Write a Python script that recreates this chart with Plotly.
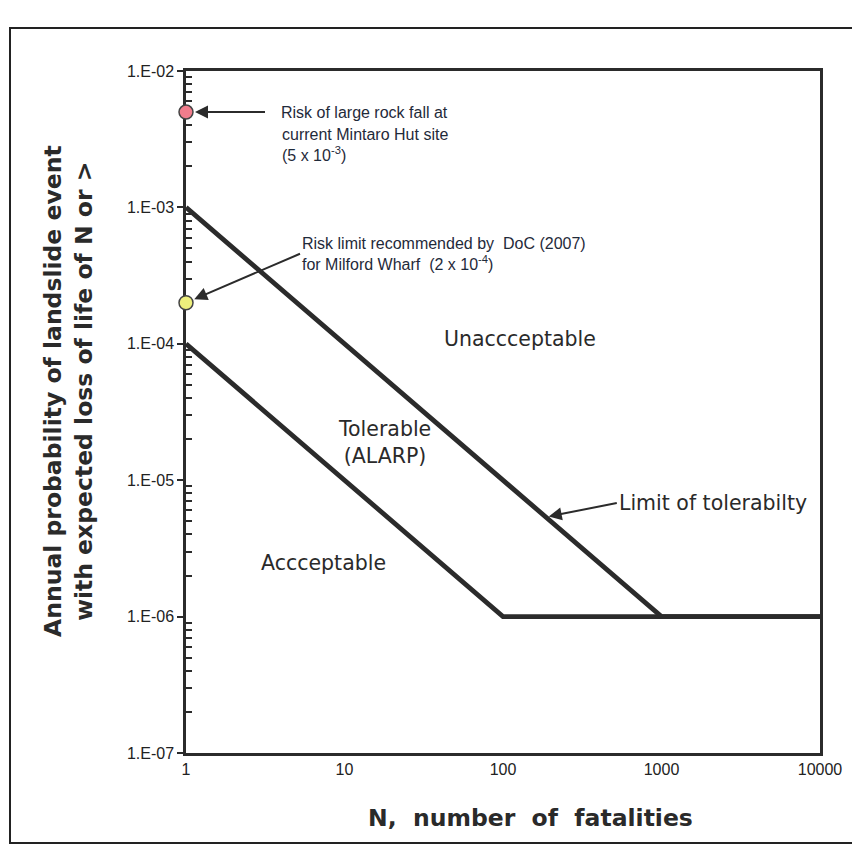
import plotly.graph_objects as go
import math

# ---- data ----
limit_N = [1, 1000, 10000]
limit_P = [1e-3, 1e-6, 1e-6]
accept_N = [1, 100, 10000]
accept_P = [1e-4, 1e-6, 1e-6]
point_N = [1, 1]
point_P = [5e-3, 2e-4]
point_colors = ["#f27d8c", "#eef07c"]
y_tickvals = [1e-7, 1e-6, 1e-5, 1e-4, 1e-3, 1e-2]
y_ticktext = ["1.E-07", "1.E-06", "1.E-05", "1.E-04", "1.E-03", "1.E-02"]
x_tickvals = [1, 10, 100, 1000, 10000]
x_ticktext = ["1", "10", "100", "1000", "10000"]
minor_y = [k * 10.0 ** e for e in range(-7, -2) for k in range(2, 10)]

# page geometry (browser body has an 8px margin)
OFF = 8
W, H = 860 - OFF, 855 - OFF
L, R, T, B = 186, 820, 71, 753


def px(xp):
    return (xp - L) / (R - L)


def py(yp):
    return (B - yp) / (B - T)


INK = "#2b2b2b"
fig = go.Figure()
fig.add_trace(go.Scatter(x=accept_N, y=accept_P, mode="lines",
                         line=dict(color=INK, width=4.8), showlegend=False, hoverinfo="skip"))
fig.add_trace(go.Scatter(x=limit_N, y=limit_P, mode="lines",
                         line=dict(color=INK, width=4.8), showlegend=False, hoverinfo="skip"))
fig.add_trace(go.Scatter(x=point_N, y=point_P, mode="markers", cliponaxis=False,
                         marker=dict(size=14, color=point_colors,
                                     line=dict(color="#444", width=1.5)),
                         showlegend=False))
# empty trace to hold the minor-tick overlay axis
fig.add_trace(go.Scatter(x=[None], y=[None], yaxis="y2", showlegend=False, hoverinfo="skip"))

ann = []
small = dict(family="Liberation Sans, Arial", size=16, color="#1f2a3a")
region = dict(family="DejaVu Sans", size=20.5, color="#2a2a2a")
arrow = dict(showarrow=True, arrowhead=2, arrowsize=1.3, arrowwidth=2, arrowcolor=INK,
             xref="x", yref="y", axref="pixel", ayref="pixel")

# rock fall point: arrow + first text line
ann.append(dict(arrow, x=math.log10(point_N[0]), y=math.log10(point_P[0]), ax=265 - L, ay=0,
                standoff=9, xanchor="left", yanchor="middle", borderpad=15, align="left",
                font=small, text="Risk of large rock fall at"))
ann.append(dict(xref="paper", yref="paper", x=px(280), y=py(124), xanchor="left", yanchor="top",
                align="left", showarrow=False, font=small,
                text="current Mintaro Hut site<br>(5 x 10<sup>-3</sup>)"))
# Milford wharf point
ann.append(dict(arrow, x=math.log10(point_N[1]), y=math.log10(point_P[1]), ax=300 - L, ay=-49,
                standoff=9, xanchor="left", yanchor="middle", borderpad=1, align="left",
                font=small,
                text="Risk limit recommended by  DoC (2007)<br>for Milford Wharf  (2 x 10<sup>-4</sup>)"))
# limit of tolerability label with arrow to the line
tipN = 10 ** 2.27
tipP = limit_P[0] / tipN
ann.append(dict(arrow, x=math.log10(tipN), y=math.log10(tipP), ax=71, ay=-14, standoff=3,
                xanchor="left", yanchor="middle", borderpad=1, font=region,
                text="Limit of tolerabilty"))

ann.append(dict(xref="paper", yref="paper", x=px(520), y=py(339), xanchor="center", yanchor="middle",
                showarrow=False, font=region, text="Unaccceptable"))
ann.append(dict(xref="paper", yref="paper", x=px(384), y=py(442), xanchor="center", yanchor="middle",
                showarrow=False, font=region, text="Tolerable<br>(ALARP)"))
ann.append(dict(xref="paper", yref="paper", x=px(323), y=py(563), xanchor="center", yanchor="middle",
                showarrow=False, font=region, text="Accceptable"))

# axis titles
title_font = dict(family="DejaVu Sans", size=23.5, color="#2a2a2a", weight="bold")
ann.append(dict(xref="paper", yref="paper", x=px(68), y=py(391), xanchor="center", yanchor="middle",
                showarrow=False, textangle=-90, font=title_font,
                text="Annual probability of landslide event<br>with expected loss of life of N or >"))
ann.append(dict(xref="paper", yref="paper", x=px(530), y=py(818), xanchor="center", yanchor="middle",
                showarrow=False, font=title_font, text="N,  number  of  fatalities"))

fig.update_layout(
    width=W, height=H,
    margin=dict(l=L - OFF, r=W - (R - OFF), t=T - OFF, b=H - (B - OFF), pad=0),
    paper_bgcolor="white", plot_bgcolor="white",
    annotations=ann,
    shapes=[dict(type="rect", xref="paper", yref="paper",
                 x0=px(10), x1=px(866), y0=py(843), y1=py(28),
                 line=dict(color="#222", width=2))],
    yaxis2=dict(type="log", range=[-7, -2], overlaying="y", side="left", anchor="x",
                tickvals=minor_y, ticks="inside", ticklen=6, tickwidth=1.5, tickcolor=INK,
                showticklabels=False, showgrid=False, zeroline=False, showline=False,
                layer="below traces"),
)
tickfont = dict(family="Liberation Sans, Arial", size=16, color="#222")
fig.update_xaxes(type="log", range=[0, 4], showgrid=False, zeroline=False,
                 showline=True, linecolor=INK, linewidth=2.5, mirror=True, layer="below traces",
                 tickvals=x_tickvals, ticktext=x_ticktext, ticks="", tickfont=tickfont)
fig.layout.yaxis.update(type="log", range=[-7, -2], showgrid=False, zeroline=False,
                        showline=True, linecolor=INK, linewidth=2.5, mirror=True,
                        layer="below traces",
                        tickvals=y_tickvals, ticktext=y_ticktext, ticks="outside", ticklen=6,
                        tickwidth=2, tickcolor=INK, tickfont=tickfont)

fig.write_html("out.html")
